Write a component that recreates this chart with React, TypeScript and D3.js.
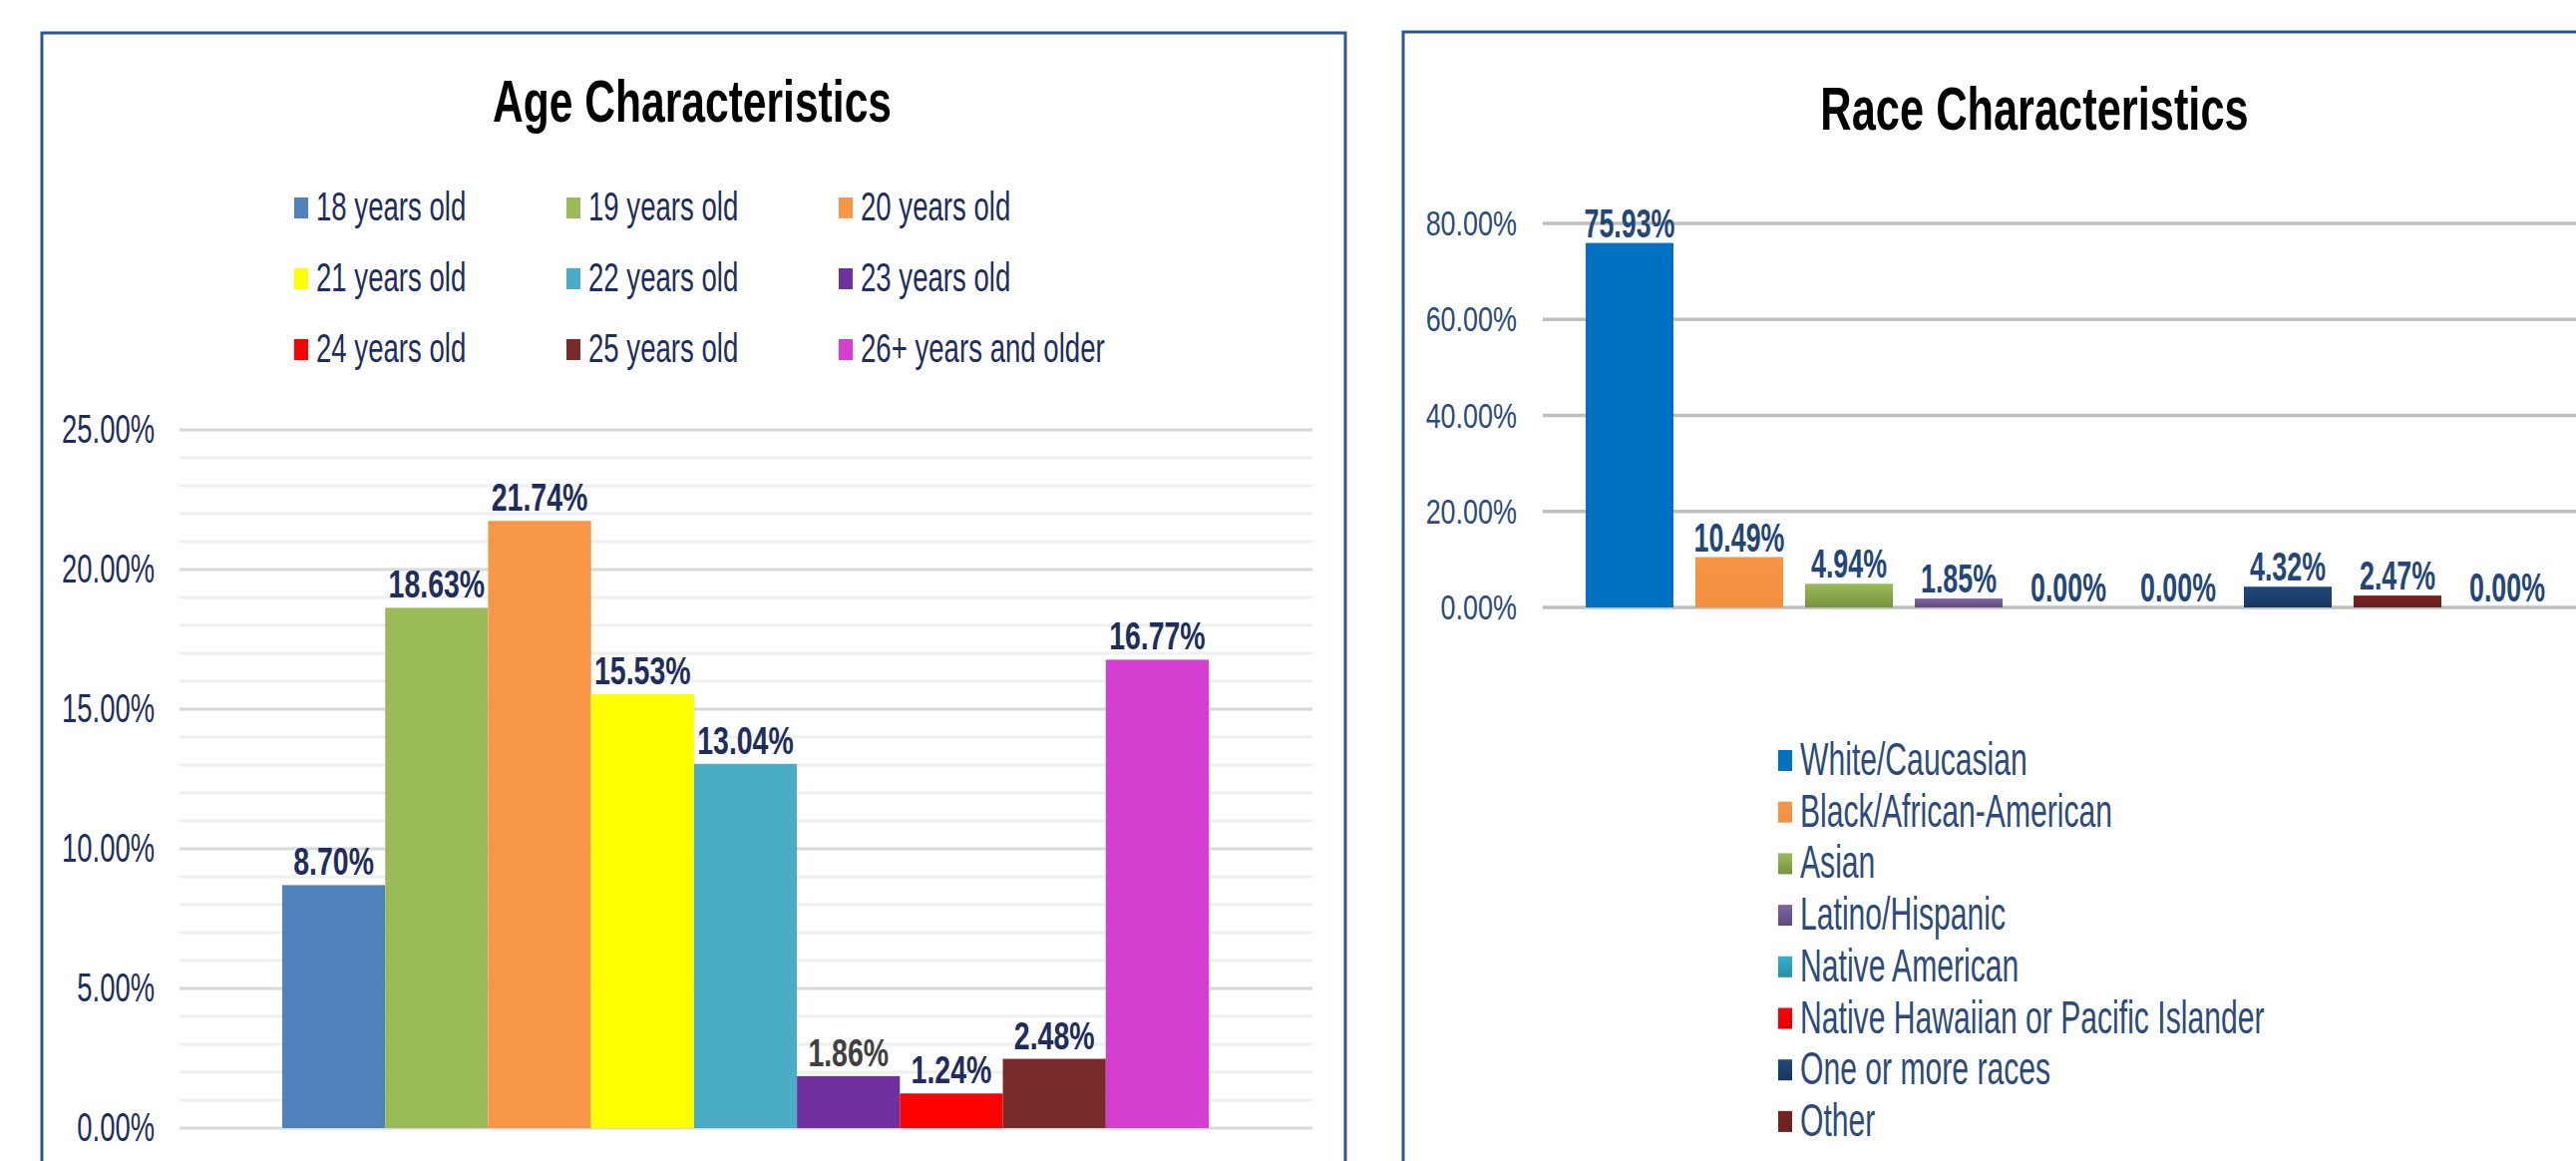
import React from "react";
import * as d3 from "d3";

// ---------- Data ----------
const ageCategories = [
  "18 years old",
  "19 years old",
  "20 years old",
  "21 years old",
  "22 years old",
  "23 years old",
  "24 years old",
  "25 years old",
  "26+ years and older",
];
const ageValues = [8.7, 18.63, 21.74, 15.53, 13.04, 1.86, 1.24, 2.48, 16.77];
const ageColors = ["#4f81bd", "#9bbb59", "#f79646", "#ffff00", "#4bacc6", "#7030a0", "#ff0000", "#772c2a", "#d43fcf"];
const ageTicks = [0, 5, 10, 15, 20, 25];
const ageMinorTicks = d3.range(0, 26, 1);

const raceCategories = [
  "White/Caucasian",
  "Black/African-American",
  "Asian",
  "Latino/Hispanic",
  "Native American",
  "Native Hawaiian or Pacific Islander",
  "One or more races",
  "Other",
  "",
];
const raceValues = [75.93, 10.49, 4.94, 1.85, 0.0, 0.0, 4.32, 2.47, 0.0];
const raceColorsTop = ["#0070c0", "#f79646", "#9bbb59", "#8064a2", "#31b0cf", "#ff0000", "#1f497d", "#7f1f1f", "#aaaaaa"];
const raceColorsBottom = ["#0070c0", "#f48f3e", "#76923c", "#604a7b", "#2790a8", "#e00000", "#17375e", "#632523", "#888888"];
const raceTicks = [0, 20, 40, 60, 80];

const FONT = "'Liberation Sans', Arial, sans-serif";

function CText(props: {
  x: number;
  y: number;
  sx: number;
  size: number;
  anchor?: string;
  weight?: string | number;
  fill: string;
  children: React.ReactNode;
}) {
  const { x, y, sx, size, anchor = "start", weight = "normal", fill, children } = props;
  return (
    <text
      transform={`translate(${x},${y}) scale(${sx},1)`}
      textAnchor={anchor}
      fontFamily={FONT}
      fontSize={size}
      fontWeight={weight}
      fill={fill}
    >
      {children}
    </text>
  );
}

function AgeChart() {
  const y = d3.scaleLinear().domain([0, 25]).range([1131, 431]);
  const x = d3.scaleBand<string>().domain(ageCategories).range([283, 1212]).padding(0);
  const plotX0 = 180;
  const plotX1 = 1316;
  const navy = "#1f2d5e";
  return (
    <g>
      <rect x={42} y={33} width={1307} height={1200} fill="#ffffff" stroke="#2f5496" strokeWidth={3} />
      <CText x={694} y={122} sx={0.71} size={60} anchor="middle" weight="bold" fill="#000000">
        Age Characteristics
      </CText>
      {/* legend */}
      {ageCategories.map((c, i) => {
        const col = i % 3;
        const row = Math.floor(i / 3);
        const lx = 295 + col * 273;
        const ly = 221 + row * 71;
        return (
          <g key={c}>
            <rect x={lx} y={ly - 23} width={14} height={21} fill={ageColors[i]} />
            <CText x={lx + 22} y={ly} sx={0.69} size={40} fill={navy}>
              {c}
            </CText>
          </g>
        );
      })}
      {/* minor gridlines */}
      {ageMinorTicks
        .filter((t) => t % 5 !== 0)
        .map((t) => (
          <line key={"m" + t} x1={plotX0} x2={plotX1} y1={y(t)} y2={y(t)} stroke="#f0f0f0" strokeWidth={3} />
        ))}
      {ageTicks.map((t) => (
        <g key={"t" + t}>
          <line x1={plotX0} x2={plotX1} y1={y(t)} y2={y(t)} stroke="#d9d9d9" strokeWidth={3} />
          <CText x={155} y={y(t) + 13} sx={0.685} size={40} anchor="end" fill={navy}>
            {t.toFixed(2) + "%"}
          </CText>
        </g>
      ))}
      {/* bars */}
      {ageCategories.map((c, i) => (
        <rect
          key={"b" + c}
          x={x(c)!}
          y={y(ageValues[i])}
          width={x.bandwidth()}
          height={y(0) - y(ageValues[i])}
          fill={ageColors[i]}
        />
      ))}
      {ageCategories.map((c, i) => (
        <CText
          key={"l" + c}
          x={x(c)! + x.bandwidth() / 2}
          y={y(ageValues[i]) - 10}
          sx={0.73}
          size={39}
          anchor="middle"
          weight="bold"
          fill={i === 5 ? "#404040" : navy}
        >
          {ageValues[i].toFixed(2) + "%"}
        </CText>
      ))}
    </g>
  );
}

function RaceChart() {
  const y = d3.scaleLinear().domain([0, 80]).range([609, 224]);
  const ids = raceCategories.map((_, i) => "r" + i);
  const x = d3.scaleBand<string>().domain(ids).range([1579, 2569]).paddingInner(0.2).paddingOuter(0.1);
  const plotX0 = 1547;
  const plotX1 = 2601;
  const axisColor = "#2c4a7e";
  const labelColor = "#23467a";
  return (
    <g>
      <defs>
        {raceColorsTop.map((c, i) => (
          <linearGradient key={"g" + i} id={"rg" + i} x1="0" y1="0" x2="0" y2="1">
            <stop offset="0%" stopColor={c} />
            <stop offset="100%" stopColor={raceColorsBottom[i]} />
          </linearGradient>
        ))}
      </defs>
      <rect x={1407} y={32} width={1300} height={1200} fill="#ffffff" stroke="#2f5496" strokeWidth={3} />
      <CText x={2040} y={130} sx={0.7} size={62} anchor="middle" weight="bold" fill="#000000">
        Race Characteristics
      </CText>
      {raceTicks.map((t) => (
        <g key={"t" + t}>
          <line x1={plotX0} x2={plotX1} y1={y(t)} y2={y(t)} stroke="#bfbfbf" strokeWidth={3.5} />
          <CText x={1521} y={y(t) + 12} sx={0.77} size={35} anchor="end" fill={axisColor}>
            {t.toFixed(2) + "%"}
          </CText>
        </g>
      ))}
      {ids.map((id, i) => (
        <rect
          key={"b" + id}
          x={x(id)!}
          y={y(raceValues[i])}
          width={x.bandwidth()}
          height={y(0) - y(raceValues[i])}
          fill={`url(#rg${i})`}
        />
      ))}
      {ids.map((id, i) => (
        <CText
          key={"l" + id}
          x={x(id)! + x.bandwidth() / 2}
          y={y(raceValues[i]) - 6}
          sx={0.67}
          size={40}
          anchor="middle"
          weight="bold"
          fill={labelColor}
        >
          {raceValues[i].toFixed(2) + "%"}
        </CText>
      ))}
      {/* legend */}
      {raceCategories
        .filter((c) => c !== "")
        .map((c, i) => {
          const ly = 777 + i * 51.7;
          return (
            <g key={"lg" + i}>
              <rect x={1783} y={ly - 25} width={14} height={21} fill={`url(#rg${i})`} />
              <CText x={1805} y={ly} sx={0.655} size={46} fill={axisColor}>
                {c}
              </CText>
            </g>
          );
        })}
    </g>
  );
}

export default function App() {
  return (
    <svg
      width={2583}
      height={1164}
      viewBox="0 0 2583 1164"
      style={{ position: "absolute", left: 0, top: 0, background: "#ffffff" }}
    >
      <rect x={0} y={0} width={2583} height={1164} fill="#ffffff" />
      <AgeChart />
      <RaceChart />
    </svg>
  );
}
